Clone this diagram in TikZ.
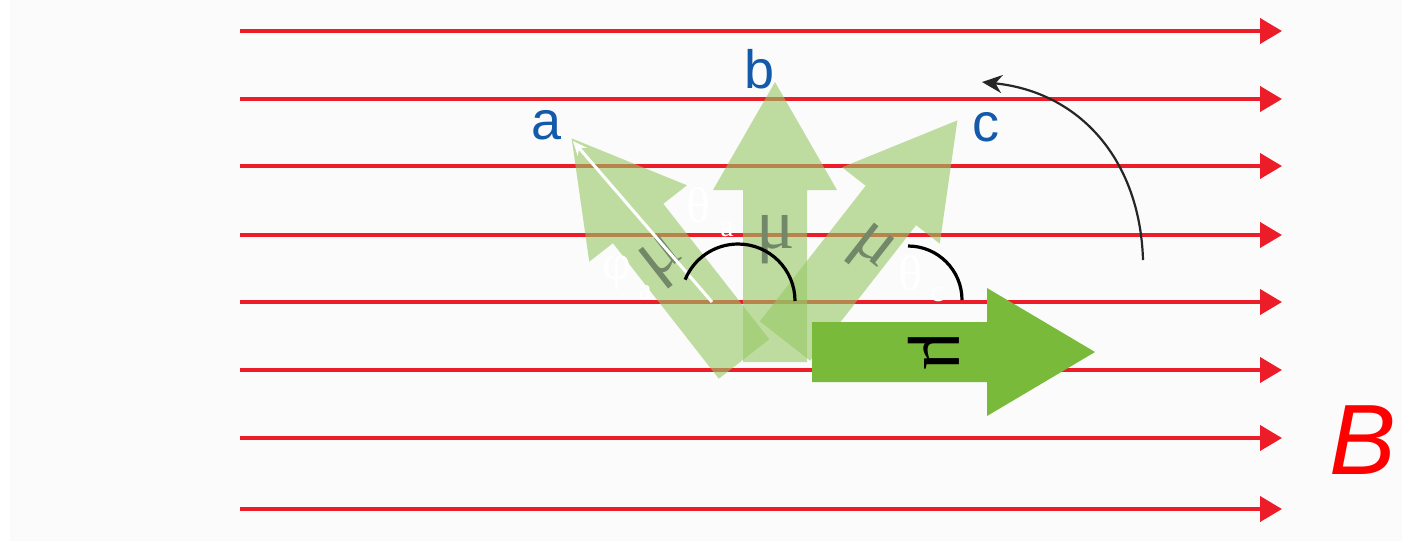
\documentclass[tikz,border=0pt]{standalone}
\usepackage{fontspec}
\setmainfont{Liberation Serif}
\newfontfamily\lsans{Liberation Sans}
\usetikzlibrary{arrows.meta}
\definecolor{bgc}{RGB}{251,251,251}
\definecolor{redl}{RGB}{236,28,40}
\definecolor{lgreen}{RGB}{150,200,100}
\definecolor{dgreen}{RGB}{122,186,58}
\definecolor{lbl}{RGB}{20,90,170}
\definecolor{mugray}{RGB}{115,135,105}
\tikzset{
  fieldline/.style={draw=redl, line width=2pt, -{Triangle[length=11pt,width=12.5pt]}},
  lightarrow/.style={fill=lgreen, fill opacity=0.6, draw=none},
  darkarrow/.style={fill=dgreen, draw=none},
  letter/.style={text=lbl, font=\lsans\fontsize{27}{27}\selectfont, inner sep=0pt},
  mulab/.style={text=mugray, font=\fontsize{36}{36}\selectfont, inner sep=0pt},
  anglab/.style={text=white, font=\fontsize{25}{25}\selectfont, inner sep=0pt},
  sublab/.style={text=white, font=\fontsize{15}{15}\selectfont, inner sep=0pt},
  anglearc/.style={draw=black, line width=1.6pt},
}
\begin{document}
\begin{tikzpicture}[x=0.5pt, y=-0.5pt]
\useasboundingbox (0,0) rectangle (1406,543);
\fill[white] (0,0) rectangle (1406,543);
\fill[bgc] (10,0) rectangle (1402,541);

% field lines
\foreach \yy [count=\i] in {31,99,166,235,302,370,438,509}{
  \coordinate (ls\i) at (240,\yy);
  \coordinate (le\i) at (1282,\yy);
  \draw[fieldline] (ls\i) -- (le\i);
}
\node[text=red, font=\lsans\itshape\fontsize{50}{50}\selectfont, inner sep=0pt] (B) at (1363,440) {B};

% light (rotated) moment arrows
\begin{scope}[shift={(744,359)}, rotate=128]
  \path[lightarrow] (0,-32) -- (172,-32) -- (172,-62) -- (280,0) -- (172,62) -- (172,32) -- (0,32) -- cycle;
\end{scope}
\begin{scope}[shift={(775,362)}, rotate=90]
  \path[lightarrow] (0,-32) -- (172,-32) -- (172,-62) -- (280,0) -- (172,62) -- (172,32) -- (0,32) -- cycle;
\end{scope}
\begin{scope}[shift={(785,341)}, rotate=52]
  \path[lightarrow] (0,-32) -- (172,-32) -- (172,-62) -- (280,0) -- (172,62) -- (172,32) -- (0,32) -- cycle;
\end{scope}

\node[mulab, rotate=38] (mua) at (664,262) {μ};
\node[mulab] (mub) at (776,240) {μ};
\node[mulab, rotate=-38] (muc) at (870,250) {μ};

% dark arrow
\begin{scope}[shift={(812,352)}]
  \path[darkarrow] (0,-30) -- (175,-30) -- (175,-64) -- (283,0) -- (175,64) -- (175,30) -- (0,30) -- cycle;
\end{scope}
\node[text=black, font=\fontsize{38}{38}\selectfont, inner sep=0pt, rotate=-90] (mud) at (934,352) {μ};

% labels a b c
\node[letter] (la) at (547,125) {a};
\node[letter] (lb) at (760,69) {b};
\node[letter] (lc) at (986,127) {c};

% white vector
\coordinate (wo) at (712,302);
\coordinate (wt) at (573,141);
\draw[white, line width=1.5pt, -{Stealth[length=7pt,width=6pt]}] (wo) -- (wt);

% angle arcs
\coordinate (arcA) at (795,301);
\draw[anglearc] (arcA) arc[start angle=0, end angle=158, radius=28.5pt];
\coordinate (arcC) at (908,246);
\draw[anglearc] (arcC) arc[start angle=90, end angle=0, radius=27pt];

% angle labels
\node[anglab] (tha) at (698,205) {θ};
\node[sublab] (thas) at (727,230) {a};
\node[anglab] (pha) at (617,273) {φ};
\node[sublab] (phas) at (645,293) {a};
\node[anglab] (thc) at (910,273) {θ};
\node[sublab] (thcs) at (937,295) {c};

% rotation arrow
\coordinate (rs) at (1143,260);
\coordinate (re) at (982,82);
\draw[black!85, line width=1.1pt, -{Stealth[length=10pt,width=9pt]}] (rs) .. controls (1140,160) and (1080,92) .. (re);
\end{tikzpicture}
\end{document}
